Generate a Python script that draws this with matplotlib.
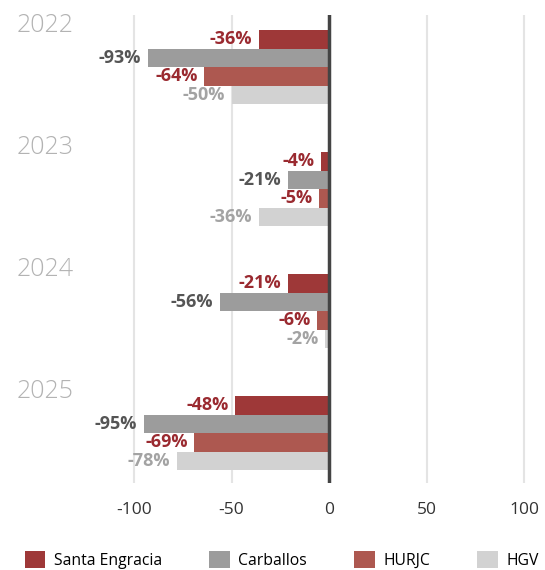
import numpy as np
import matplotlib.pyplot as plt
from matplotlib.patches import Patch

plt.rcParams['font.family'] = ['Open Sans', 'DejaVu Sans']
plt.rcParams['axes.unicode_minus'] = False

years = ['2022', '2023', '2024', '2025']
series = ['Santa Engracia', 'Carballos', 'HURJC', 'HGV']
santa_engracia = [-36, -4, -21, -48]
carballos = [-93, -21, -56, -95]
hurjc = [-64, -5, -6, -69]
hgv = [-50, -36, -2, -78]
xticks = [-100, -50, 0, 50, 100]

values = [santa_engracia, carballos, hurjc, hgv]
bar_colors = ['#9e3838', '#9c9c9c', '#ad5850', '#d2d2d2']
text_colors = ['#9a2a30', '#555555', '#9a2a30', '#a3a3a3']

fig = plt.figure(figsize=(5.45, 5.7), dpi=100)
ax = fig.add_axes([100 / 545, 87 / 570, 435 / 545, 468 / 570])

bar_h = 18.5
group_step = 122
first_top = 30

for j, vals in enumerate(values):
    for i, v in enumerate(vals):
        yc = first_top + group_step * i + bar_h * j + bar_h / 2
        ax.barh(yc, v, height=bar_h, color=bar_colors[j], zorder=2)
        ax.text(v - 3.5, yc, f'{v}%', ha='right', va='center',
                fontsize=13, fontweight='bold', color=text_colors[j], zorder=3)

for i, y in enumerate(years):
    ax.text(-160, first_top + group_step * i - 4, y, ha='left', va='center',
            fontsize=18, color='#b3b3b3', fontweight='light', clip_on=False)

ax.set_xlim(-117.4, 105.5)
ax.set_ylim(483, 15)
ax.set_xticks(xticks)
ax.set_yticks([])
ax.tick_params(axis='x', length=0, labelsize=12.5, labelcolor='#333333', pad=14)
for s in ax.spines.values():
    s.set_visible(False)
for t in xticks:
    if t != 0:
        ax.axvline(t, color='#e4e4e4', lw=1.5, zorder=1)
ax.axvline(0, color='#444444', lw=2.5, zorder=4)

handles = [Patch(facecolor=c, label=s) for c, s in zip(bar_colors, series)]
fig.legend(handles=handles, loc='center', bbox_to_anchor=(0.517, 10 / 570), ncol=4,
           frameon=False, fontsize=11.3, handlelength=1.3, handleheight=1.3,
           columnspacing=3.0, handletextpad=0.55, borderaxespad=0)

fig.savefig('out.png', dpi=100)
